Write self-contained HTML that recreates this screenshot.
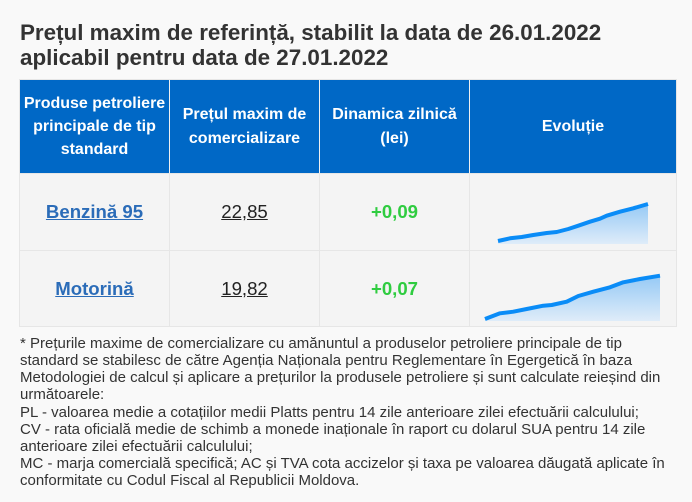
<!DOCTYPE html>
<html>
<head>
<meta charset="utf-8">
<style>
  html, body { margin:0; padding:0; }
  body { width:692px; height:502px; background:#f9f9f9; position:relative; overflow:hidden; font-family:"Liberation Sans", Arial, sans-serif; }
  .title { position:absolute; left:20px; top:20px; font-size:22.4px; line-height:25px; font-weight:bold; color:#333; white-space:nowrap; }
  .tbl { position:absolute; left:19px; top:79px; width:656px; height:246px; border:1px solid #e6e6e6; background:#f4f4f4; }
  .hdr { position:absolute; left:20px; top:80px; width:656px; height:93px; background:#0068c6; }
  .hcell { position:absolute; top:80px; height:93px; display:flex; align-items:center; justify-content:center; text-align:center; color:#fff; font-weight:bold; font-size:16px; line-height:23.3px; white-space:nowrap; }
  .vline { position:absolute; width:1px; }
  .hline { position:absolute; height:1px; background:#e6e6e6; }
  .cell { position:absolute; display:flex; align-items:center; justify-content:center; white-space:nowrap; font-size:18.6px; }
  .link { color:#2b6cb8; font-weight:bold; text-decoration:underline; }
  .price { color:#222; text-decoration:underline; }
  .green { color:#2fcc40; font-weight:bold; }
  .note { position:absolute; left:20px; top:334.8px; font-size:15px; line-height:17.2px; color:#333; white-space:nowrap; }
  svg { position:absolute; left:0; top:0; }
</style>
</head>
<body>
<div class="title">Prețul maxim de referință, stabilit la data de 26.01.2022<br>aplicabil pentru data de 27.01.2022</div>

<div class="tbl"></div>
<div class="hdr"></div>

<!-- header vertical dividers -->
<div class="vline" style="left:169px;top:80px;height:93px;background:#f0f0f0;"></div>
<div class="vline" style="left:319px;top:80px;height:93px;background:#f0f0f0;"></div>
<div class="vline" style="left:469px;top:80px;height:93px;background:#f0f0f0;"></div>
<!-- body vertical dividers -->
<div class="vline" style="left:169px;top:173px;height:153px;background:#e6e6e6;"></div>
<div class="vline" style="left:319px;top:173px;height:153px;background:#e6e6e6;"></div>
<div class="vline" style="left:469px;top:173px;height:153px;background:#e6e6e6;"></div>
<!-- row dividers -->
<div class="hline" style="left:20px;top:173px;width:656px;"></div>
<div class="hline" style="left:20px;top:250px;width:656px;"></div>

<div class="hcell" style="left:20px;width:149px;">Produse petroliere<br>principale de tip<br>standard</div>
<div class="hcell" style="left:170px;width:149px;">Prețul maxim de<br>comercializare</div>
<div class="hcell" style="left:320px;width:149px;">Dinamica zilnică<br>(lei)</div>
<div class="hcell" style="left:470px;width:206px;">Evoluție</div>

<div class="cell" style="left:20px;top:174px;width:149px;height:76px;"><span class="link">Benzină 95</span></div>
<div class="cell" style="left:170px;top:174px;width:149px;height:76px;"><span class="price">22,85</span></div>
<div class="cell" style="left:320px;top:174px;width:149px;height:76px;"><span class="green">+0,09</span></div>

<div class="cell" style="left:20px;top:251px;width:149px;height:75px;"><span class="link">Motorină</span></div>
<div class="cell" style="left:170px;top:251px;width:149px;height:75px;"><span class="price">19,82</span></div>
<div class="cell" style="left:320px;top:251px;width:149px;height:75px;"><span class="green">+0,07</span></div>

<svg width="692" height="502" viewBox="0 0 692 502">
  <defs>
    <linearGradient id="g1" x1="0" y1="0" x2="0" y2="1">
      <stop offset="0" stop-color="#95c9f5"/>
      <stop offset="1" stop-color="#dfecf9"/>
    </linearGradient>
  </defs>
  <polygon fill="url(#g1)" points="498,244 498,241 510,238.3 521.7,237 533.3,235 546.7,233 556.7,232 568.3,229 578.3,225.7 590,221.7 600,218.7 606.7,215.7 620,211.7 633.3,208.3 648,204 648,244"/>
  <polyline fill="none" stroke="#0a8cf7" stroke-width="4" stroke-linejoin="round" points="498,241 510,238.3 521.7,237 533.3,235 546.7,233 556.7,232 568.3,229 578.3,225.7 590,221.7 600,218.7 606.7,215.7 620,211.7 633.3,208.3 648,204"/>

  <polygon fill="url(#g1)" points="485,321 485,319 500,313.3 513.3,311.7 526.7,309 543.3,305.7 551.7,305 566.7,301.7 578.3,296 593.3,291.7 610,287.3 623.3,282.3 640,279 660,275.7 660,321"/>
  <polyline fill="none" stroke="#0a8cf7" stroke-width="4" stroke-linejoin="round" points="485,319 500,313.3 513.3,311.7 526.7,309 543.3,305.7 551.7,305 566.7,301.7 578.3,296 593.3,291.7 610,287.3 623.3,282.3 640,279 660,275.7"/>
</svg>

<div class="note">* Prețurile maxime de comercializare cu amănuntul a produselor petroliere principale de tip<br>standard se stabilesc de către Agenția Naționala pentru Reglementare în Egergetică în baza<br>Metodologiei de calcul și aplicare a prețurilor la produsele petroliere și sunt calculate reieșind din<br>următoarele:<br>PL - valoarea medie a cotațiilor medii Platts pentru 14 zile anterioare zilei efectuării calculului;<br>CV - rata oficială medie de schimb a monede inaționale în raport cu dolarul SUA pentru 14 zile<br>anterioare zilei efectuării calculului;<br>MC - marja comercială specifică; AC și TVA cota accizelor și taxa pe valoarea dăugată aplicate în<br>conformitate cu Codul Fiscal al Republicii Moldova.</div>
</body>
</html>
